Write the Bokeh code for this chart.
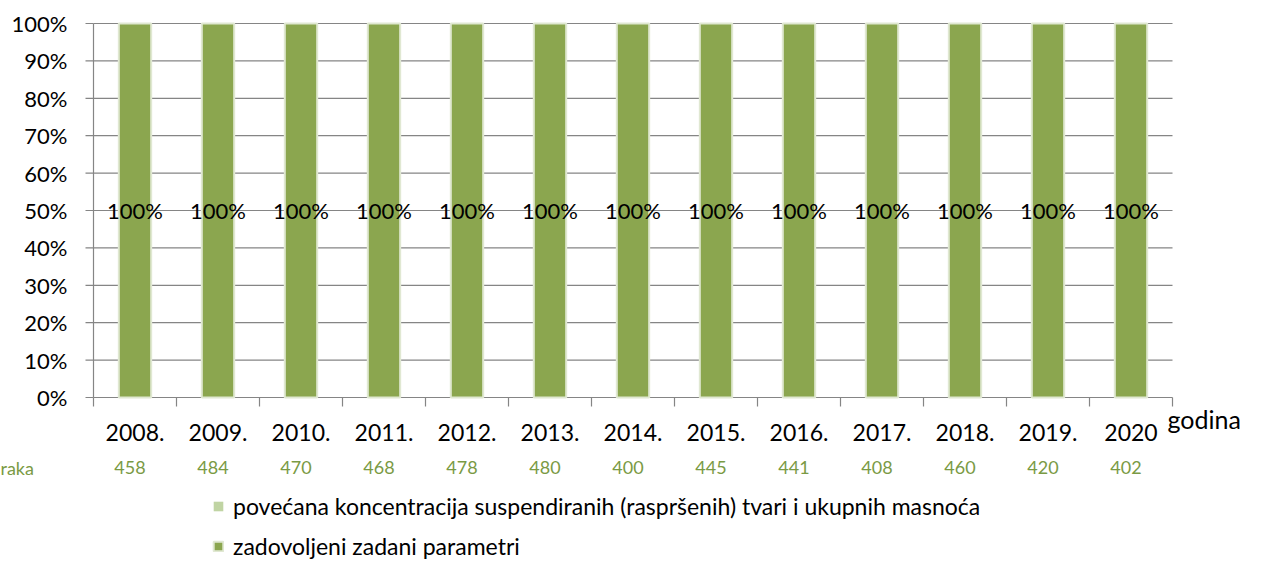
import math
from bokeh.plotting import figure
from bokeh.models import ColumnDataSource, Legend, LegendItem, Range1d
from bokeh.core.properties import value
from bokeh.embed import file_html
from bokeh.resources import INLINE

# ---- data ----
years = ["2008.", "2009.", "2010.", "2011.", "2012.", "2013.", "2014.",
         "2015.", "2016.", "2017.", "2018.", "2019.", "2020"]
satisfied_pct = [100, 100, 100, 100, 100, 100, 100, 100, 100, 100, 100, 100, 100]
exceeded_pct = [0, 0, 0, 0, 0, 0, 0, 0, 0, 0, 0, 0, 0]
sample_counts = [458, 484, 470, 468, 478, 480, 400, 445, 441, 408, 460, 420, 402]
y_ticks = [0, 10, 20, 30, 40, 50, 60, 70, 80, 90, 100]
y_tick_labels = ["0%", "10%", "20%", "30%", "40%", "50%", "60%", "70%", "80%", "90%", "100%"]
series_names = ["povećana koncentracija suspendiranih (raspršenih) tvari i ukupnih masnoća",
                "zadovoljeni zadani parametri"]
count_row_label = "raka"
x_axis_title = "godina"

# ---- styling / layout ----
FONT = value("Lato")
DARK_GREEN = "#8BA64F"
LIGHT_GREEN = "#C0D4A3"
TEXT_GREEN = "#7A9A44"
GRAY = "#858585"

W, H = 1261, 562
PLOT_L, PLOT_R, PLOT_T, PLOT_B = 93, 1172, 23, 397

n = len(years)
px_x = (PLOT_R - PLOT_L) / n
px_y = (PLOT_B - PLOT_T) / (y_ticks[-1] - y_ticks[0])
x_range = Range1d(-PLOT_L / px_x, n + (W - PLOT_R) / px_x)
y_range = Range1d(y_ticks[0] - (H - PLOT_B) / px_y, y_ticks[-1] + PLOT_T / px_y)

p = figure(width=W, height=H, x_range=x_range, y_range=y_range,
           x_axis_location=None, y_axis_location=None,
           output_backend="svg", toolbar_location=None, min_border=0)
p.outline_line_color = None
p.xgrid.visible = False
p.ygrid.visible = False

xc = [i + 0.5 for i in range(n)]
bounds = list(range(n + 1))

src = ColumnDataSource(dict(
    x=xc, sat=satisfied_pct, exc=exceeded_pct,
    mid=[v / 2 for v in satisfied_pct],
    lbl=[f"{v}%" for v in satisfied_pct],
    cnt=[str(c) for c in sample_counts],
    year=years, base=[y_ticks[0]] * n,
))
ysrc = ColumnDataSource(dict(y=y_ticks, lbl=y_tick_labels,
                             x0=[0] * len(y_ticks), x1=[n] * len(y_ticks)))

# gridlines (incl. category axis line at 0%) and y-axis line
p.segment(x0="x0", y0="y", x1="x1", y1="y", source=ysrc, line_color=GRAY, line_width=1.2)
p.segment(x0=[0], y0=[y_ticks[0]], x1=[0], y1=[y_ticks[-1]], line_color=GRAY, line_width=1.2)
# y ticks (outside, left) and category boundary ticks (below)
p.ray(x="x0", y="y", length=8, angle=math.pi, length_units="screen", source=ysrc,
      line_color=GRAY, line_width=1.2)
p.ray(x=bounds, y=[y_ticks[0]] * (n + 1), length=9, angle=-math.pi / 2,
      length_units="screen", line_color=GRAY, line_width=1.2)

# bars
r_sat, r_exc = p.vbar_stack(["sat", "exc"], x="x", width=0.39, source=src,
                            fill_color=[DARK_GREEN, LIGHT_GREEN],
                            line_color=["#E0E8D2", None], line_width=2)

# y tick labels
p.text(x="x0", y="y", text="lbl", source=ysrc, x_offset=-26, text_align="right",
       text_baseline="middle", text_font=FONT, text_font_size="22px", text_color="black")
# year labels
p.text(x="x", y="base", text="year", source=src, y_offset=35, text_align="center",
       text_baseline="middle", text_font=FONT, text_font_size="23px", text_color="black")
# data labels
p.text(x="x", y="mid", text="lbl", source=src, text_align="center",
       text_baseline="middle", text_font=FONT, text_font_size="22px", text_color="black")
# sample counts row
p.text(x="x", y="base", text="cnt", source=src, x_offset=-5, y_offset=70,
       text_align="center", text_baseline="middle", text_font=FONT,
       text_font_size="18px", text_color=TEXT_GREEN)
p.text(x=[0], y=[y_ticks[0]], text=[count_row_label], x_offset=-PLOT_L, y_offset=70,
       text_align="left", text_baseline="middle", text_font=FONT,
       text_font_size="18px", text_color=TEXT_GREEN)
# x axis title
p.text(x=[n], y=[y_ticks[0]], text=[x_axis_title], x_offset=-5, y_offset=21,
       text_align="left", text_baseline="middle", text_font=FONT,
       text_font_size="25px", text_color="black")

legend = Legend(items=[LegendItem(label=series_names[0], renderers=[r_exc]),
                       LegendItem(label=series_names[1], renderers=[r_sat])],
                location=(212, 2), orientation="vertical",
                glyph_width=12, glyph_height=12, label_standoff=9,
                label_height=28, spacing=12, padding=0, margin=0,
                border_line_color=None, background_fill_alpha=0,
                label_text_font="Lato", label_text_font_size="23px",
                label_text_color="black")
p.add_layout(legend)

open("out.html", "w").write(file_html(p, INLINE))
